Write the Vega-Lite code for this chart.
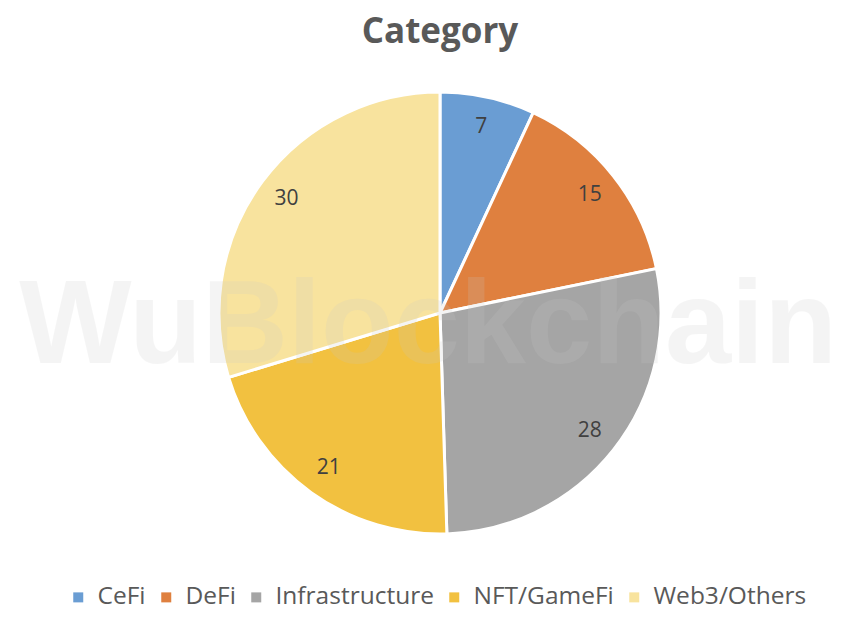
{
  "$schema": "https://vega.github.io/schema/vega-lite/v6.json",
  "width": 820,
  "height": 500,
  "autosize": {"type": "none"},
  "padding": {"top": 63, "left": 30, "right": 0, "bottom": 55},
  "background": "white",
  "title": {
    "text": "Category",
    "font": "Open Sans",
    "fontSize": 35,
    "fontWeight": "bold",
    "color": "#595959",
    "anchor": "middle",
    "offset": 13
  },
  "config": {
    "view": {"stroke": null},
    "legend": {
      "orient": "none",
      "legendX": 36,
      "legendY": 522,
      "direction": "horizontal",
      "title": null,
      "labelFont": "Open Sans",
      "labelFontSize": 24.5,
      "labelLimit": 400,
      "labelColor": "#595959",
      "symbolType": "square",
      "symbolSize": 100,
      "symbolStrokeWidth": 0,
      "labelOffset": 7,
      "columnPadding": 8,
      "padding": 0
    }
  },
  "datasets": {
    "pie": [
      {"Category": "CeFi", "Count": 7},
      {"Category": "DeFi", "Count": 15},
      {"Category": "Infrastructure", "Count": 28},
      {"Category": "NFT/GameFi", "Count": 21},
      {"Category": "Web3/Others", "Count": 30}
    ],
    "mark": [
      {"text": "WuBlockchain"}
    ]
  },
  "layer": [
    {
      "data": {"name": "pie"},
      "mark": {"type": "arc", "outerRadius": 221, "stroke": "white", "strokeWidth": 3},
      "encoding": {
        "theta": {"field": "Count", "type": "quantitative", "stack": true},
        "order": {"field": "Category", "type": "ordinal", "sort": "ascending"},
        "color": {
          "field": "Category",
          "type": "nominal",
          "scale": {
            "domain": ["CeFi", "DeFi", "Infrastructure", "NFT/GameFi", "Web3/Others"],
            "range": ["#6A9DD3", "#DF803F", "#A5A5A5", "#F2C140", "#F8E39E"]
          },
          "legend": {}
        }
      }
    },
    {
      "data": {"name": "pie"},
      "mark": {"type": "text", "radius": 191, "font": "Open Sans", "fontSize": 21, "color": "#404040", "baseline": "middle", "align": "center"},
      "encoding": {
        "theta": {"field": "Count", "type": "quantitative", "stack": true},
        "order": {"field": "Category", "type": "ordinal", "sort": "ascending"},
        "text": {"field": "Count", "type": "quantitative"}
      }
    },
    {
      "data": {"name": "mark"},
      "mark": {"type": "text", "font": "Liberation Sans", "fontWeight": "bold", "fontSize": 119, "color": "#C8C8C8", "opacity": 0.18, "baseline": "middle", "align": "center", "dx": -12, "dy": 14},
      "encoding": {
        "text": {"field": "text", "type": "nominal"}
      }
    }
  ]
}
